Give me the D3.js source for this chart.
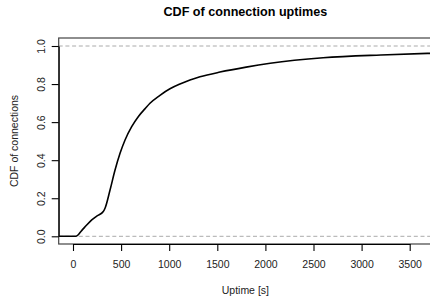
<!DOCTYPE html>
<html>
<head>
<meta charset="utf-8">
<script src="https://cdn.jsdelivr.net/npm/d3@7"></script>
<style>
  body { margin: 0; background: #fff; }
  svg { display: block; font-family: "Liberation Sans", Arial, sans-serif; }
</style>
</head>
<body>
<svg id="chart" width="430" height="297"></svg>
<script>
const uptime = [-150, 30, 90, 140, 195, 250, 315, 335, 385, 437, 489, 541, 610, 680, 750, 800, 904, 1008, 1112, 1216, 1320, 1528, 1800, 2050, 2600, 3200, 3750];
const cdf    = [0, 0, 0.030, 0.058, 0.086, 0.107, 0.130, 0.150, 0.243, 0.348, 0.436, 0.506, 0.576, 0.630, 0.671, 0.699, 0.741, 0.775, 0.800, 0.821, 0.838, 0.863, 0.889, 0.909, 0.938, 0.953, 0.962];
const xTicks = [0, 500, 1000, 1500, 2000, 2500, 3000, 3500];
const yTicks = [0, 0.2, 0.4, 0.6, 0.8, 1.0];
const refLines = [0, 1];

const svg = d3.select("#chart");
const box = {left: 58.7, right: 432, top: 38, bottom: 244};

const x = d3.scaleLinear().domain([0, 3500]).range([73, 409.7]);
const y = d3.scaleLinear().domain([0, 1]).range([236.3, 46]);

svg.append("defs").append("clipPath").attr("id", "clip")
  .append("rect")
  .attr("x", box.left).attr("y", box.top)
  .attr("width", box.right - box.left).attr("height", box.bottom - box.top);

// dashed reference lines at 0 and 1
svg.selectAll("line.ref")
  .data(refLines)
  .enter().append("line")
  .attr("class", "ref")
  .attr("x1", box.left).attr("x2", box.right)
  .attr("y1", d => y(d)).attr("y2", d => y(d))
  .attr("stroke", "#aaa")
  .attr("stroke-width", 1)
  .attr("stroke-dasharray", "4,2.7");

const pts = uptime.map((u, i) => [u, cdf[i]]);
const line = d3.line()
  .x(d => x(d[0]))
  .y(d => y(d[1]))
  .curve(d3.curveMonotoneX);

svg.append("path")
  .datum(pts)
  .attr("clip-path", "url(#clip)")
  .attr("fill", "none")
  .attr("stroke", "#000")
  .attr("stroke-width", 1.6)
  .attr("d", line);

// plot box
svg.append("rect")
  .attr("x", box.left).attr("y", box.top)
  .attr("width", box.right - box.left).attr("height", box.bottom - box.top)
  .attr("fill", "none")
  .attr("stroke", "#444")
  .attr("stroke-width", 1.2);

// x axis
const gx = svg.append("g")
  .attr("transform", `translate(0,${box.bottom})`)
  .call(d3.axisBottom(x).tickValues(xTicks).tickSize(7).tickSizeOuter(0).tickFormat(d3.format("d")));
gx.selectAll("text")
  .attr("y", 24).attr("dy", null)
  .attr("font-size", 10.5).attr("fill", "#222");

// y axis
const gy = svg.append("g")
  .attr("transform", `translate(${box.left},0)`)
  .call(d3.axisLeft(y).tickValues(yTicks).tickSize(7).tickSizeOuter(0).tickFormat(d3.format(".1f")));
gy.selectAll("text")
  .attr("transform", "rotate(-90)")
  .attr("text-anchor", "middle")
  .attr("x", 0).attr("y", -14.2).attr("dy", null)
  .attr("font-size", 10.5).attr("fill", "#222");

svg.selectAll(".domain, .tick line").attr("stroke", "#000").attr("stroke-width", 1.1);

// titles
svg.append("text")
  .attr("x", (box.left + box.right) / 2).attr("y", 16)
  .attr("text-anchor", "middle")
  .attr("font-size", 12.6).attr("font-weight", "bold")
  .text("CDF of connection uptimes");

svg.append("text")
  .attr("x", (box.left + box.right) / 2).attr("y", 294)
  .attr("text-anchor", "middle")
  .attr("font-size", 10.5).attr("fill", "#222")
  .text("Uptime [s]");

svg.append("text")
  .attr("transform", `translate(18.3,${(box.top + box.bottom) / 2}) rotate(-90)`)
  .attr("text-anchor", "middle")
  .attr("font-size", 10.5).attr("fill", "#222")
  .text("CDF of connections");
</script>
</body>
</html>
